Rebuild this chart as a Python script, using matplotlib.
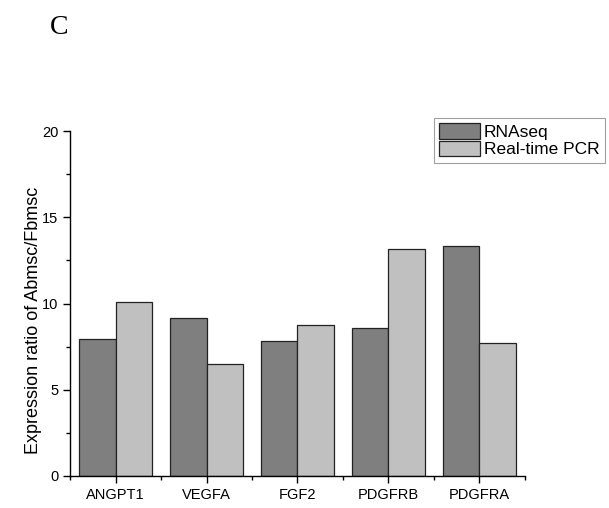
import matplotlib
matplotlib.use('Agg')
import matplotlib.pyplot as plt
import numpy as np
from matplotlib.ticker import MultipleLocator, FixedLocator

plt.rcParams['font.family'] = ['Liberation Sans', 'DejaVu Sans']

genes = ['ANGPT1', 'VEGFA', 'FGF2', 'PDGFRB', 'PDGFRA']
rnaseq = [7.92, 9.18, 7.85, 8.58, 13.33]
pcr = [10.09, 6.47, 8.75, 13.14, 7.69]

fig = plt.figure(figsize=(6.09, 5.08), dpi=100)
ax = fig.add_axes([0.115, 0.063, 0.747, 0.679])

x = np.arange(len(genes))
w = 0.4
ax.bar(x - w / 2, rnaseq, w, color='#7f7f7f', edgecolor='#222222', linewidth=0.9, label='RNAseq')
ax.bar(x + w / 2, pcr, w, color='#c0c0c0', edgecolor='#222222', linewidth=0.9, label='Real-time PCR')

ax.set_xlim(-0.5, 4.5)
ax.set_ylim(0, 20)
ax.set_xticks(x)
ax.set_xticklabels(genes)
ax.xaxis.set_minor_locator(FixedLocator(np.arange(-0.5, 4.6, 1)))
ax.yaxis.set_major_locator(MultipleLocator(5))
ax.yaxis.set_minor_locator(MultipleLocator(2.5))
ax.tick_params(axis='both', which='major', length=5, width=1, labelsize=10.5, direction='out')
ax.tick_params(axis='both', which='minor', length=3, width=1, direction='out')
for s in ['top', 'right']:
    ax.spines[s].set_visible(False)
for s in ['left', 'bottom']:
    ax.spines[s].set_linewidth(1)
ax.set_ylabel('Expression ratio of Abmsc/Fbmsc', fontsize=13, labelpad=0)
ax.yaxis.set_label_coords(-0.062, 0.45)

leg = fig.legend(loc='upper left', bbox_to_anchor=(0.712, 0.768), fontsize=12.5,
                 frameon=True, fancybox=False, edgecolor='#888888',
                 handlelength=2.35, handleheight=1.0, handletextpad=0.25,
                 borderpad=0.3, labelspacing=0.05, borderaxespad=0)
leg.get_frame().set_linewidth(0.8)

fig.text(0.082, 0.945, 'C', fontsize=20, family=['Liberation Serif', 'DejaVu Serif'],
         ha='left', va='center')

fig.savefig('out.png', dpi=100)
